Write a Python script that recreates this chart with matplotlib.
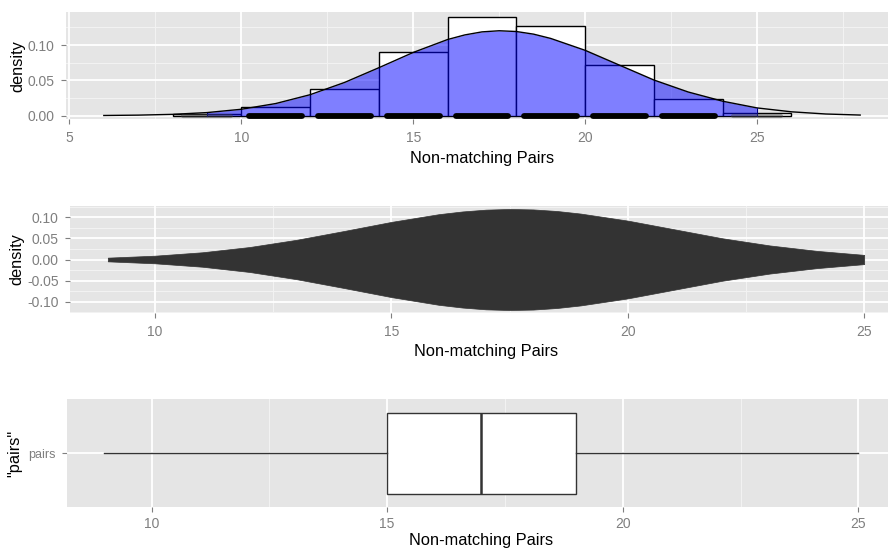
import matplotlib
matplotlib.use("Agg")
import matplotlib.pyplot as plt

plt.rcParams['font.family'] = ['Liberation Sans', 'DejaVu Sans']

# density curve (normal-looking fit)
dens_x = [6, 7, 8, 9, 10, 11, 12, 13, 14, 15, 16, 16.5, 17, 17.5, 18, 18.5,
          19, 20, 21, 22, 23, 24, 25, 26, 27, 28]
dens_y = [0.0003, 0.0008, 0.0019, 0.0044, 0.0091, 0.0172, 0.0297, 0.0470,
          0.0679, 0.0895, 0.1078, 0.1143, 0.1186, 0.1202, 0.1191, 0.1154,
          0.1093, 0.0925, 0.0715, 0.0505, 0.0335, 0.0205, 0.0110, 0.0055,
          0.0024, 0.0009]

# histogram (binwidth 2)
hist_edges = [8, 10, 12, 14, 16, 18, 20, 22, 24, 26]
hist_heights = [0.003, 0.012, 0.0375, 0.0907, 0.140, 0.127, 0.0718, 0.0232, 0.0035]

# jittered points along y = 0 (odd pair counts)
pair_values = [9, 11, 13, 15, 17, 19, 21, 23, 25]
pair_sparse = [True, False, False, False, False, False, False, False, True]

# boxplot stats
box_stats = dict(whislo=9, q1=15, med=17, q3=19, whishi=25, label="pairs")

W, H = 888, 552
fig = plt.figure(figsize=(W / 100, H / 100), dpi=100)

BG = "#E5E5E5"
TXT = "#7F7F7F"


def px_axes(left, top, right, bottom):
    return fig.add_axes([left / W, 1 - bottom / H, (right - left) / W, (bottom - top) / H])


def gg_style(ax, xminor, yminor=None):
    ax.set_facecolor(BG)
    for s in ax.spines.values():
        s.set_visible(False)
    ax.set_axisbelow(True)
    for v in xminor:
        ax.axvline(v, color="#F2F2F2", lw=0.8, zorder=0.5)
    for v in (yminor or []):
        ax.axhline(v, color="#F2F2F2", lw=0.8, zorder=0.5)
    ax.grid(True, which="major", color="white", lw=1.3)
    ax.tick_params(colors=TXT, labelcolor=TXT, labelsize=10, length=3.6, width=0.8)
    ax.tick_params(axis="y", pad=4.5)
    ax.tick_params(axis="x", pad=4.5)


# ---- top: histogram + density + points
ax1 = px_axes(66, 12.3, 898, 119.3)
gg_style(ax1, [7.5, 12.5, 17.5, 22.5, 27.5], [0.025, 0.075, 0.125])
ax1.hist(hist_edges[:-1], bins=hist_edges, weights=hist_heights,
         color="white", edgecolor="black", lw=1.0, zorder=2)
vx = [x for x in dens_x if 9 <= x <= 25]
vy = [y for x, y in zip(dens_x, dens_y) if 9 <= x <= 25]
ax1.fill_between(vx, 0, vy, color="blue", alpha=0.5, lw=0, zorder=3)
ax1.plot(dens_x, dens_y, color="black", lw=1.0, zorder=4)
ax1.plot([9, 9], [0, vy[0]], color="#000080", lw=0.8, zorder=4)
ax1.plot([25, 25], [0, vy[-1]], color="#000080", lw=0.8, zorder=4)
for v, sparse in zip(pair_values, pair_sparse):
    if sparse:
        ax1.plot([v - 0.7, v + 0.7], [0, 0], color="#444444", alpha=0.45,
                 lw=3.0, solid_capstyle="round", zorder=5)
    else:
        ax1.plot([v - 0.77, v + 0.77], [0, 0], color="black",
                 lw=4.2, solid_capstyle="round", zorder=5)
ax1.set_xlim(4.9, 29.1)
ax1.set_ylim(-0.0051, 0.1463)
ax1.set_xticks([5, 10, 15, 20, 25])
ax1.set_yticks([0, 0.05, 0.10])
ax1.set_yticklabels(["0.00", "0.05", "0.10"])
ax1.set_xlabel("Non-matching Pairs", fontsize=11.8, labelpad=5)
ax1.set_ylabel("density", fontsize=11.8, labelpad=2)

# ---- middle: violin
ax2 = px_axes(70, 205.7, 902, 313.3)
gg_style(ax2, [12.5, 17.5, 22.5], [-0.125, -0.075, -0.025, 0.025, 0.075, 0.125])
ax2.fill_between(vx, [-y for y in vy], vy, color="#333333", lw=0.5,
                 edgecolor="#333333", zorder=3)
ax2.set_xlim(8.2, 25.8)
ax2.set_ylim(-0.128, 0.128)
ax2.set_xticks([10, 15, 20, 25])
ax2.set_yticks([-0.10, -0.05, 0, 0.05, 0.10])
ax2.set_yticklabels(["-0.10", "-0.05", "0.00", "0.05", "0.10"])
ax2.set_xlabel("Non-matching Pairs", fontsize=11.8, labelpad=4)
ax2.set_ylabel("density", fontsize=11.8, labelpad=2)

# ---- bottom: boxplot
ax3 = px_axes(66.7, 399.3, 896, 507.3)
gg_style(ax3, [12.5, 17.5, 22.5])
ax3.bxp([box_stats], positions=[1], widths=0.9, vert=False, showfliers=False,
        showcaps=False, patch_artist=True,
        boxprops=dict(facecolor="white", edgecolor="#333333", lw=1.0),
        whiskerprops=dict(color="#333333", lw=1.0),
        medianprops=dict(color="#333333", lw=1.8), zorder=3)
ax3.set_xlim(8.2, 25.8)
ax3.set_ylim(0.4, 1.6)
ax3.set_xticks([10, 15, 20, 25])
ax3.set_xticklabels(["10", "15", "20", "25"])
ax3.set_yticks([1])
ax3.set_yticklabels(["pairs"])
ax3.tick_params(axis="y", labelsize=9)
ax3.tick_params(axis="x", pad=3.5)
ax3.grid(False, axis="y")
ax3.axhline(1, color="white", lw=1.3, zorder=0.6)
ax3.set_xlabel("Non-matching Pairs", fontsize=11.8, labelpad=1.5)
ax3.set_ylabel('"pairs"', fontsize=11.8, labelpad=4)

fig.savefig("out.png", dpi=100)
